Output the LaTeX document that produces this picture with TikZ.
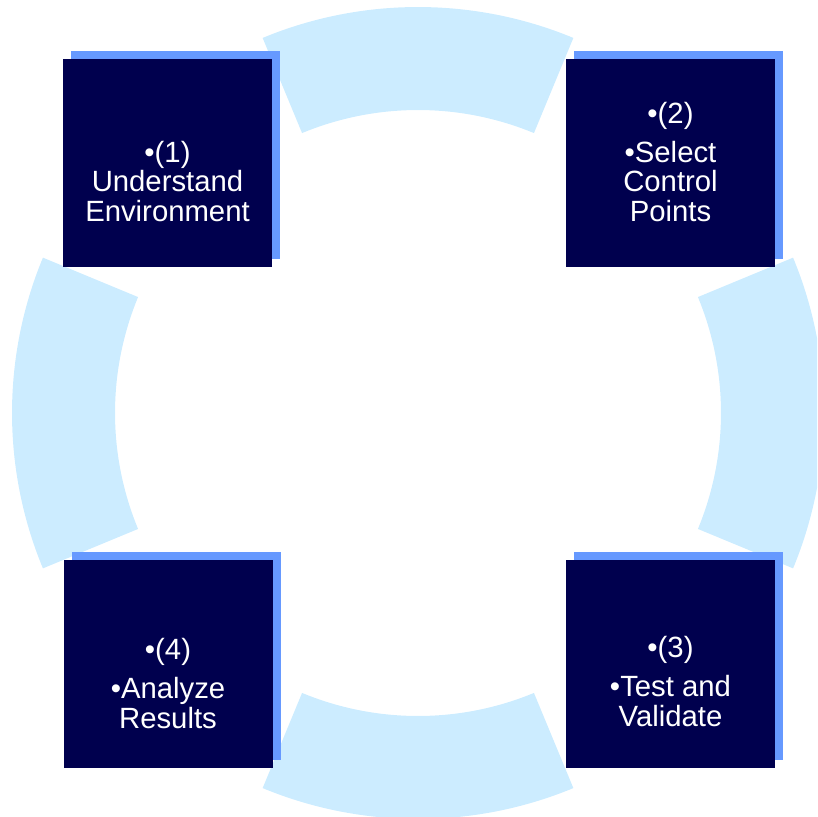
\documentclass[tikz,border=0pt]{standalone}
\usepackage{fontspec}
\setmainfont{Liberation Sans}
\usetikzlibrary{shadows}

\definecolor{ringblue}{HTML}{CCECFF}
\definecolor{shadeblue}{HTML}{6699FF}
\definecolor{navy}{HTML}{00004E}

\begin{document}
\begin{tikzpicture}[x=1pt, y=-1pt,
	ring/.style={fill=ringblue},
	phase/.style={fill=navy, minimum width=209pt, minimum height=208pt, inner sep=0pt,
		general shadow={fill=shadeblue, shadow xshift=8pt, shadow yshift=8pt}},
	phasetext/.style={text=white, align=center, anchor=base, inner sep=0pt,
		font=\fontsize{29.3}{29.5}\selectfont}]
	\useasboundingbox (0,0) rectangle (817,817);
	\clip (0,0) rectangle (817,817);
	\coordinate (c) at (418,413);
	% four pieces of the ring
	\fill[ring] ([shift={(-22.5:406)}]c) arc[start angle=-22.5, end angle=22.5, radius=406] -- ([shift={(22.5:303)}]c) arc[start angle=22.5, end angle=-22.5, radius=303] -- cycle;
	\fill[ring] ([shift={(67.5:406)}]c) arc[start angle=67.5, end angle=112.5, radius=406] -- ([shift={(112.5:303)}]c) arc[start angle=112.5, end angle=67.5, radius=303] -- cycle;
	\fill[ring] ([shift={(157.5:406)}]c) arc[start angle=157.5, end angle=202.5, radius=406] -- ([shift={(202.5:303)}]c) arc[start angle=202.5, end angle=157.5, radius=303] -- cycle;
	\fill[ring] ([shift={(247.5:406)}]c) arc[start angle=247.5, end angle=292.5, radius=406] -- ([shift={(292.5:303)}]c) arc[start angle=292.5, end angle=247.5, radius=303] -- cycle;
	% the four steps (base = last line of text)
	\node[phase] (understand) at (167.5,163) {};
	\node[phase] (select) at (670.5,163) {};
	\node[phase] (validate) at (670.5,664) {};
	\node[phase] (analyze) at (168,664) {};
	\node[phasetext] (understand-t) at ([yshift=-58pt]understand.center) {•(1)\\Understand\\Environment};
	\node[phasetext] (select-t) at ([yshift=-58pt]select.center) {•(2)\\[9.5pt]•Select\\Control\\Points};
	\node[phasetext] (validate-t) at ([yshift=-62pt]validate.center) {•(3)\\[9.5pt]•Test and\\Validate};
	\node[phasetext] (analyze-t) at ([yshift=-64pt]analyze.center) {•(4)\\[9.5pt]•Analyze\\Results};
\end{tikzpicture}
\end{document}
